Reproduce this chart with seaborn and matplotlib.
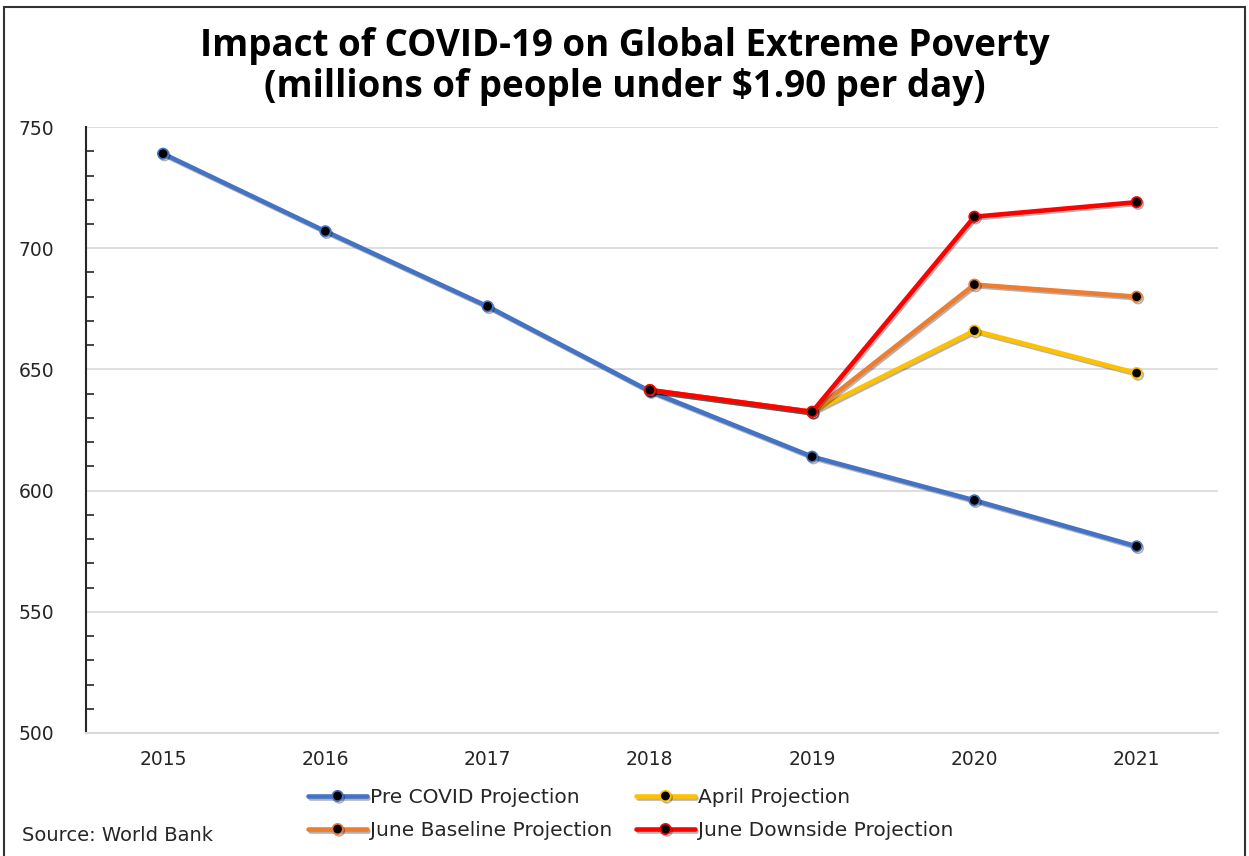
import numpy as np
import pandas as pd
import matplotlib
matplotlib.use("Agg")
import matplotlib.pyplot as plt
import matplotlib.patheffects as pe
from matplotlib.ticker import MultipleLocator
from matplotlib.patches import Rectangle
import seaborn as sns

# Extreme poverty headcount (millions of people under $1.90/day)
years = ["2015", "2016", "2017", "2018", "2019", "2020", "2021"]
pre_covid = [739, 707, 676, 641, 614, 596, 577]
april = [np.nan, np.nan, np.nan, 641.5, 632.5, 666, 648.5]
june_baseline = [np.nan, np.nan, np.nan, 641.5, 632.5, 685, 680]
june_downside = [np.nan, np.nan, np.nan, 641.5, 632.5, 713, 719]

series_names = ["Pre COVID Projection", "April Projection",
                "June Baseline Projection", "June Downside Projection"]
series_values = [pre_covid, april, june_baseline, june_downside]
colors = ["#4472C4", "#FFC000", "#ED7D31", "#FF0000"]

df = pd.concat(
    [pd.DataFrame({"year": years, "value": v, "series": n})
     for n, v in zip(series_names, series_values)],
    ignore_index=True,
)

sns.set_theme(style="white")
plt.rcParams["font.family"] = ["DejaVu Sans"]

fig = plt.figure(figsize=(12.49, 8.56), dpi=100)
ax = fig.add_axes([0.069, 0.1437, 0.906, 0.7079])

shadow = [pe.SimpleLineShadow(offset=(1.0, -1.2), shadow_color="black", alpha=0.3),
          pe.Normal()]

handles = {}
for name, color in zip(series_names, colors):
    sub = df[df["series"] == name].dropna()
    sns.lineplot(data=sub, x="year", y="value", ax=ax, color=color,
                 linewidth=3.3, marker="o", markersize=7.5,
                 markerfacecolor="black", markeredgecolor=color,
                 markeredgewidth=1.2, sort=False, label=name)
    line = ax.get_lines()[-1]
    line.set_path_effects(shadow)
    handles[name] = line

ax.set_xlim(-0.474, 6.5)
ax.set_ylim(500, 750)
ax.yaxis.set_major_locator(MultipleLocator(50))
ax.yaxis.set_minor_locator(MultipleLocator(10))
ax.grid(axis="y", which="major", color="#d9d9d9", linewidth=1.2)
ax.set_axisbelow(True)

for side in ["top", "right"]:
    ax.spines[side].set_visible(False)
ax.spines["left"].set_color("#262626")
ax.spines["left"].set_linewidth(1.5)
ax.spines["bottom"].set_color("#d9d9d9")
ax.spines["bottom"].set_linewidth(1.5)

ax.tick_params(axis="y", which="major", direction="in", length=7, width=1.3,
               color="#262626", pad=23, labelsize=13.5, labelcolor="#262626")
ax.tick_params(axis="y", which="minor", direction="in", length=6, width=1.2,
               color="#262626", left=True)
ax.tick_params(axis="x", length=0, pad=12, labelsize=13.5, labelcolor="#262626")
ax.set_xlabel("")
ax.set_ylabel("")
ax.get_legend().remove()

fig.text(0.5, 0.922, "Impact of COVID-19 on Global Extreme Poverty\n"
         "(millions of people under $1.90 per day)",
         ha="center", va="center", fontsize=26.5, fontweight="bold",
         linespacing=1.1, family=["Open Sans", "DejaVu Sans"], color="black")

order = ["Pre COVID Projection", "June Baseline Projection",
         "April Projection", "June Downside Projection"]
fig.legend([handles[n] for n in order], order, loc="center",
           bbox_to_anchor=(0.505, 0.049), ncol=2, frameon=False,
           fontsize=14.5, handlelength=2.9, handletextpad=0.15,
           columnspacing=1.2, labelspacing=0.7)

fig.text(0.018, 0.024, "Source: World Bank", fontsize=14, color="#262626",
         ha="left", va="center")

fig.patches.append(Rectangle((0.003, -0.01), 0.994, 1.002, transform=fig.transFigure,
                             fill=False, edgecolor="#333333", linewidth=1.5))

fig.savefig("out.png", dpi=100, facecolor="white")
